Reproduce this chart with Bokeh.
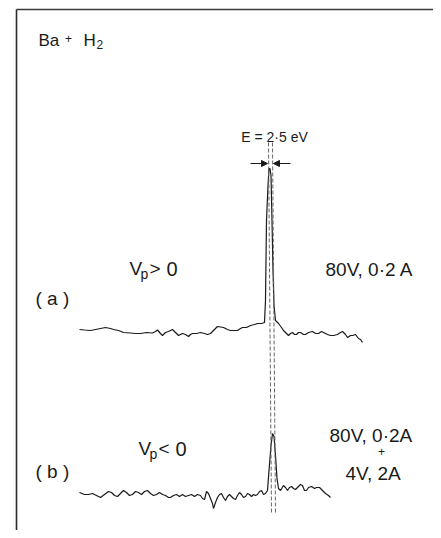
from bokeh.plotting import figure
from bokeh.models import Range1d, Label, Arrow, NormalHead
from bokeh.embed import file_html
from bokeh.resources import INLINE

# ---- data (x: energy position, y: page-like vertical coordinate) ----
trace_a_x = [79, 84, 90, 95, 100, 105, 110, 113, 118, 123, 130, 135, 140, 146, 152, 155, 157, 160, 162, 165,
             168, 172, 175, 178, 180, 182, 185, 188, 190, 192, 196, 200, 204, 207, 210, 213, 217, 220, 223, 227,
             230, 234, 237, 240, 242, 246, 250, 254, 257, 261, 264, 265, 266, 267.5, 268.5, 269.5, 270.5, 271.5,
             272.5, 273.5, 275, 277, 278, 281, 283, 286, 288, 290, 292, 294, 296, 298, 300, 303, 305, 308, 312,
             315, 318, 321, 323, 327, 330, 333, 337, 340, 342, 345, 347, 350, 352, 355, 358, 360, 362]
trace_a_y = [329, 329.5, 330, 329, 328, 327, 328, 329, 330, 332, 332.5, 333, 333, 332, 332.5, 331, 329.5, 333, 335, 332,
             331, 329, 332, 335, 334, 333, 334, 336, 334, 333, 333, 332, 333, 334, 333, 330, 326, 326.5, 327, 329,
             330, 330, 330, 328, 327, 327, 325, 324, 323, 323, 322, 300, 220, 185, 168, 168, 175, 220,
             270, 305, 320, 322, 323, 327, 330, 333, 335, 333, 332, 334, 334, 332, 332, 334, 334, 332, 331,
             333, 333, 331, 332, 334, 335, 335, 334, 332, 331, 334, 337, 335, 335, 334, 338, 339, 342]

trace_b_x = [79, 84, 88, 92, 96, 100, 104, 108, 111, 114, 117, 120, 123, 126, 129, 132, 135, 138, 141, 144,
             147, 150, 153, 156, 159, 162, 165, 168, 170, 173, 176, 179, 182, 185, 188, 191, 194, 197, 200, 202,
             204, 206, 208, 210, 212, 213, 215, 217, 219, 221, 223, 225, 227, 229, 231, 233, 235, 237, 239, 241,
             243, 245, 247, 249, 251, 253, 255, 257, 259, 261, 263, 265, 267, 268.5, 270.5, 272, 273.5, 275,
             276.5, 278, 280, 283, 285, 287, 289, 291, 293, 295, 297, 300, 302, 304, 306, 308, 311, 314, 316,
             319, 322, 325, 328, 330]
trace_b_y = [492, 494, 494, 493, 495, 497, 494, 491, 492, 495, 496, 493, 490, 492, 495, 494, 491, 492, 494, 491,
             490, 493, 495, 494, 492, 494, 495, 497, 497, 495, 494, 496, 494, 496, 495, 494, 496, 494, 495, 498,
             499, 491, 493, 498, 503, 508, 502, 497, 494, 493, 497, 500, 496, 494, 496, 498, 499, 495, 492, 494,
             497, 496, 493, 494, 496, 494, 495, 494, 491, 490, 494, 493, 490, 470, 445, 433, 436, 455,
             478, 488, 490, 485, 487, 490, 487, 486, 488, 489, 487, 484, 485, 490, 490, 487, 486, 488, 487,
             487, 490, 493, 495, 497]

# dashed markers bracketing E = 2.5 eV
marker_x0 = [268, 272]
marker_x1 = [271, 275]
marker_y0 = [142, 142]
marker_y1 = [512, 512]

FONT = "Liberation Sans"
INK = "#1a1a1a"

p = figure(width=433, height=530, x_range=Range1d(0, 433), y_range=Range1d(530, 0),
           output_backend="svg", toolbar_location=None, x_axis_type=None, y_axis_type=None,
           min_border=0, min_border_left=0, min_border_right=0, min_border_top=0, min_border_bottom=0)
p.outline_line_color = None
p.background_fill_color = "white"
p.border_fill_color = "white"
p.xgrid.visible = False
p.ygrid.visible = False

# frame of the scanned figure (left and top edges)
p.line(x=[16, 16], y=[540, 9], line_color="#2a2a2a", line_width=1.6)
p.quad(left=[16], right=[433], top=[8.2], bottom=[9.8], fill_color="#3a3a3a", line_color=None)

# spectra
p.line(trace_a_x, trace_a_y, line_color=INK, line_width=1.2)
p.line(trace_b_x, trace_b_y, line_color=INK, line_width=1.2)

# dashed vertical lines
p.segment(x0=marker_x0, y0=marker_y0, x1=marker_x1, y1=marker_y1,
          line_color="#666666", line_width=1, line_dash="4 2")

# width arrows
p.add_layout(Arrow(end=NormalHead(size=6, fill_color=INK, line_color=INK),
                   x_start=250, y_start=163, x_end=267, y_end=163, line_color=INK, line_width=1))
p.add_layout(Arrow(end=NormalHead(size=6, fill_color=INK, line_color=INK),
                   x_start=290, y_start=163, x_end=273, y_end=163, line_color=INK, line_width=1))


def lab(x, y, text, size, align="left"):
    p.add_layout(Label(x=x, y=y, text=text, text_font=FONT, text_font_size=f"{size}px",
                       text_color=INK, text_align=align, text_baseline="alphabetic"))


# title
lab(38, 40, "Ba", 17)
lab(68, 38, "+", 12, "center")
lab(83, 40, "H", 17)
lab(96, 44, "2", 12)

lab(274, 136, "E = 2·5 eV", 14, "center")

# (a)
lab(129, 268, "V", 19)
lab(140, 273, "p", 14)
lab(149, 268, ">", 19)
lab(166, 268, "0", 20)
lab(35, 298, "( a )", 19)
lab(325, 269, "80V,  0·2 A", 19)

# (b)
lab(138, 448, "V", 19)
lab(149, 453, "p", 14)
lab(158, 448, "<", 19)
lab(175, 448, "0", 20)
lab(35, 471, "( b )", 19)
lab(329, 435, "80V,  0·2A", 19)
lab(381, 451, "+", 12, "center")
lab(345, 473, "4V,  2A", 19)

open("out.html", "w").write(file_html(p, INLINE))
